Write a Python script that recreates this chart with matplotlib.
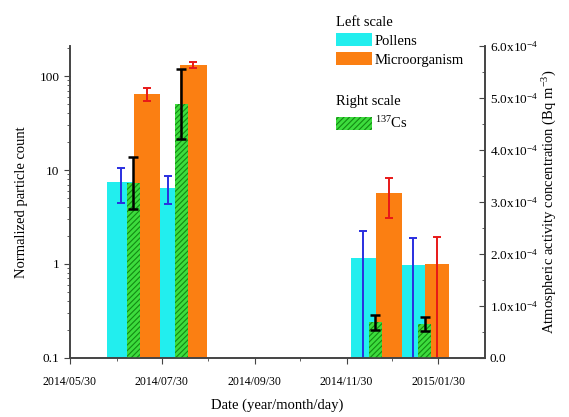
import pandas as pd
import matplotlib
matplotlib.use('Agg')
import matplotlib.pyplot as plt
import matplotlib.dates as mdates
from matplotlib.patches import Patch
from matplotlib.ticker import FuncFormatter, MultipleLocator, LogLocator

plt.rcParams['font.family'] = ['Liberation Serif', 'DejaVu Serif']
plt.rcParams['mathtext.fontset'] = 'custom'
plt.rcParams['mathtext.rm'] = 'Liberation Serif'
plt.rcParams['mathtext.it'] = 'Liberation Serif:italic'
plt.rcParams['hatch.linewidth'] = 0.8

# sample mid dates and values
pollen_dates = pd.to_datetime(['2014-07-03', '2014-08-03', '2014-12-11', '2015-01-13'])
pollen = [7.5, 6.5, 1.15, 0.98]
pollen_err = [3.1, 2.2, 1.1, 0.92]

micro_dates = pd.to_datetime(['2014-07-20', '2014-08-20', '2014-12-28', '2015-01-29'])
micro = [64, 131, 5.7, 1.0]
micro_err = [10, 10, 2.6, 0.92]

cs_dates = pd.to_datetime(['2014-07-11', '2014-08-12', '2014-12-19', '2015-01-21'])
cs137 = [3.37e-4, 4.88e-4, 0.68e-4, 0.65e-4]
cs_err = [0.5e-4, 0.68e-4, 0.14e-4, 0.14e-4]

pollen_w = [18.6, 12, 16.6, 16]
micro_w = [17.3, 18, 17.3, 16]
cs_w = 8.7

fig = plt.figure(figsize=(5.69, 4.17), dpi=100)
ax = fig.add_axes([0.123, 0.142, 0.729, 0.748])
ax2 = ax.twinx()

ax.bar(pollen_dates, pollen, width=pollen_w, color='#22eeee', zorder=2)
ax.bar(micro_dates, micro, width=micro_w, color='#fb7f12', zorder=2)
ax.errorbar(pollen_dates, pollen, yerr=pollen_err, fmt='none', ecolor='#2a2ee0',
            elinewidth=1.4, capsize=3, capthick=1.4, zorder=3)
ax.errorbar(micro_dates, micro, yerr=micro_err, fmt='none', ecolor='#e81818',
            elinewidth=1.4, capsize=3, capthick=1.4, zorder=3)

ax2.bar(cs_dates, cs137, width=cs_w, color='#3ddc3d', edgecolor='#128a12',
        hatch='//////', linewidth=0)
ax2.errorbar(cs_dates, cs137, yerr=cs_err, fmt='none', ecolor='black',
             elinewidth=1.8, capsize=3.5, capthick=1.8)

ax.set_yscale('log')
ax.set_ylim(0.1, 210)
ax.yaxis.set_major_locator(LogLocator(base=10))
ax.yaxis.set_major_formatter(FuncFormatter(lambda v, p: f'{v:g}'))
ax2.set_ylim(0, 6e-4)
ax2.yaxis.set_major_locator(MultipleLocator(1e-4))
ax2.yaxis.set_minor_locator(MultipleLocator(0.5e-4))


def sci(v, p):
    if abs(v) < 1e-12:
        return '0.0'
    return f'{v * 1e4:.1f}x10$^{{\\mathregular{{-4}}}}$'


ax2.yaxis.set_major_formatter(FuncFormatter(sci))

ax.set_xlim(pd.Timestamp('2014-05-30'), pd.Timestamp('2015-03-02'))
ax.xaxis.set_major_locator(mdates.MonthLocator(bymonth=[1, 3, 5, 7, 9, 11], bymonthday=30))
ax.xaxis.set_minor_locator(mdates.MonthLocator(bymonth=[2, 4, 6, 8, 10, 12], bymonthday=30))
ax.xaxis.set_major_formatter(mdates.DateFormatter('%Y/%m/%d'))

for a in (ax, ax2):
    a.spines['top'].set_visible(False)
    for s in a.spines.values():
        s.set_linewidth(1.2)
        s.set_color('#444444')
ax.tick_params(axis='y', which='both', direction='out', labelsize=9.5, color='#444444')
ax.tick_params(axis='x', which='both', direction='out', labelsize=8.5, color='#444444', pad=9)
ax.tick_params(which='major', length=4)
ax.tick_params(which='minor', length=2.5)
ax2.tick_params(axis='y', which='both', direction='in', labelsize=9.5, color='#444444')
ax2.tick_params(which='major', length=4)
ax2.tick_params(which='minor', length=2.5)

ax.set_xlabel('Date (year/month/day)', fontsize=10.5, labelpad=8)
ax.set_ylabel('Normalized particle count', fontsize=10.5, labelpad=8)
ax2.set_ylabel('Atmospheric activity concentration (Bq m$^{\\mathregular{-3}}$)', fontsize=10.5, labelpad=2)

left_handles = [Patch(facecolor='#22eeee'), Patch(facecolor='#fb7f12')]
leg1 = ax2.legend(left_handles, ['Pollens', 'Microorganism'], title='Left scale',
                  loc='upper left', bbox_to_anchor=(0.59, 0.962), bbox_transform=fig.transFigure,
                  frameon=False, fontsize=10.5, title_fontsize=10.5, alignment='left',
                  handlelength=2.5, handleheight=1.0, handletextpad=0.2, labelspacing=0.3,
                  borderpad=0, borderaxespad=0)
ax2.add_artist(leg1)
right_handles = [Patch(facecolor='#3ddc3d', edgecolor='#128a12', hatch='//////', linewidth=0)]
ax2.legend(right_handles, ['$^{\\mathregular{137}}$Cs'], title='Right scale',
           loc='upper left', bbox_to_anchor=(0.59, 0.772), bbox_transform=fig.transFigure,
           frameon=False, fontsize=10.5, title_fontsize=10.5, alignment='left',
           handlelength=2.5, handleheight=1.0, handletextpad=0.2,
           borderpad=0, borderaxespad=0)

fig.savefig('out.png', dpi=100)
